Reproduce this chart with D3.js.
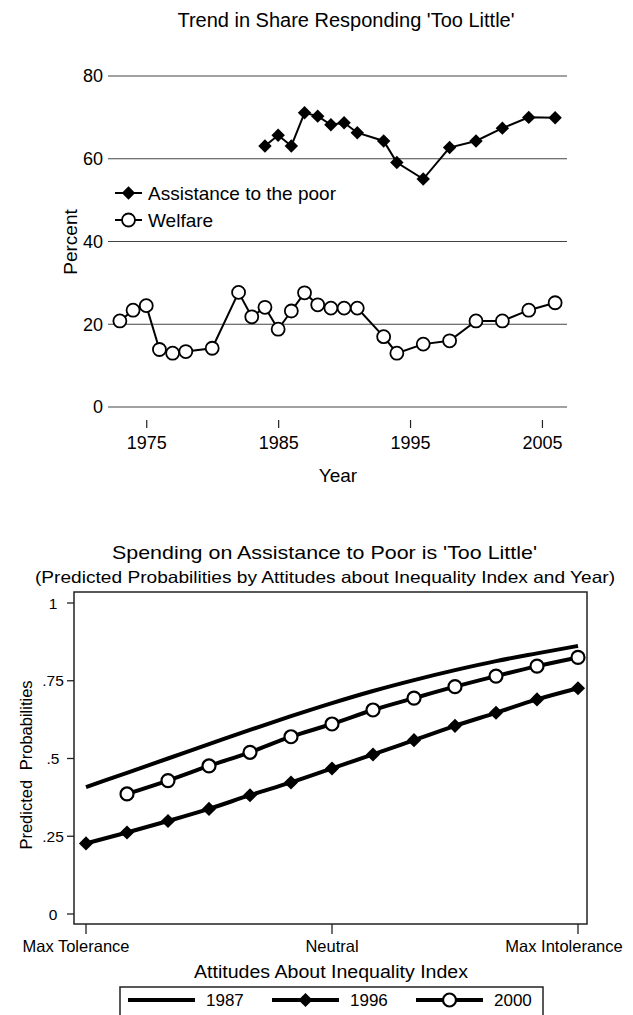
<!DOCTYPE html>
<html><head><meta charset="utf-8">
<script src="https://cdn.jsdelivr.net/npm/d3@7"></script>
<style>
body{margin:0;background:#fff}
text{font-family:"Liberation Sans",Arial,Helvetica,sans-serif;fill:#000}
</style>
</head><body>
<svg id="c" width="633" height="1015"></svg>
<script>
// ---------- Top chart data ----------
const welfareYears = [1973,1974,1975,1976,1977,1978,1980,1982,1983,1984,1985,1986,1987,1988,1989,1990,1991,1993,1994,1996,1998,2000,2002,2004,2006];
const welfareValues = [20.8,23.4,24.5,13.9,13.0,13.4,14.2,27.7,21.8,24.1,18.8,23.2,27.6,24.7,23.9,23.9,23.9,17.0,13.0,15.2,16.0,20.8,20.8,23.4,25.2];
const poorYears = [1984,1985,1986,1987,1988,1989,1990,1991,1993,1994,1996,1998,2000,2002,2004,2006];
const poorValues = [63.1,65.7,63.1,71.1,70.3,68.2,68.7,66.3,64.3,59.1,55.1,62.7,64.3,67.4,70.0,69.9];
const yearTicks = [1975,1985,1995,2005];
const percentTicks = [0,20,40,60,80];
const topLegendLabels = ["Assistance to the poor","Welfare"];

// ---------- Bottom chart data ----------
const indexPoints = [0,1,2,3,4,5,6,7,8,9,10,11,12];
const prob1987 = [0.408,0.454,0.500,0.546,0.592,0.636,0.678,0.717,0.752,0.784,0.813,0.838,0.862];
const prob1996 = [0.227,0.262,0.299,0.338,0.382,0.423,0.468,0.513,0.559,0.605,0.647,0.690,0.726];
const prob2000 = [null,0.386,0.429,0.476,0.520,0.570,0.611,0.656,0.694,0.731,0.765,0.797,0.825];
const indexTicks = [0,6,12];
const indexTickLabels = ["Max Tolerance","Neutral","Max Intolerance"];
const probTicks = [0,0.25,0.5,0.75,1];
const probTickLabels = ["0",".25",".5",".75","1"];
const bottomLegendLabels = ["1987","1996","2000"];

const svg = d3.select("#c");

// =============== TOP CHART ===============
const xT = d3.scaleLinear().domain([1972.1, 2006.9]).range([108, 567]);
const yT = d3.scaleLinear().domain([0, 80]).range([407, 76]);

svg.append("text").attr("x", 346).attr("y", 27).attr("text-anchor","middle")
  .style("font-size","20px").text("Trend in Share Responding 'Too Little'");

// gridlines
const gT = svg.append("g");
gT.selectAll("line.grid").data(percentTicks).join("line")
  .attr("x1", xT.range()[0]).attr("x2", xT.range()[1])
  .attr("y1", d=>yT(d)).attr("y2", d=>yT(d))
  .attr("stroke","#444").attr("stroke-width",1.2);
gT.selectAll("text.yl").data(percentTicks).join("text")
  .attr("x", 103).attr("y", d=>yT(d)).attr("dy","0.36em")
  .attr("text-anchor","end").style("font-size","18px").text(d=>d);

// x axis ticks
const xAxisT = d3.axisBottom(xT).tickValues(yearTicks).tickSize(8).tickPadding(8).tickFormat(d3.format("d"));
const gx = svg.append("g").attr("transform","translate(0,420)").call(xAxisT);
gx.select(".domain").remove();
gx.selectAll(".tick line").attr("stroke","#222").attr("stroke-width",1.2);
gx.selectAll(".tick text").style("font-size","18px").style("font-family","'Liberation Sans',Arial,sans-serif").attr("fill","#000");

svg.append("text").attr("x", 338).attr("y", 482).attr("text-anchor","middle")
  .style("font-size","19px").text("Year");
svg.append("text").attr("transform","translate(77,242) rotate(-90)").attr("text-anchor","middle")
  .style("font-size","19px").text("Percent");

const lineT = d3.line().x(d=>xT(d[0])).y(d=>yT(d[1]));
const poorData = poorYears.map((y,i)=>[y, poorValues[i]]);
const welfData = welfareYears.map((y,i)=>[y, welfareValues[i]]);

svg.append("path").datum(poorData).attr("d", lineT).attr("fill","none").attr("stroke","#000").attr("stroke-width",2);
svg.append("path").datum(welfData).attr("d", lineT).attr("fill","none").attr("stroke","#000").attr("stroke-width",2);

const diamondT = d3.symbol(d3.symbolSquare, 90);
svg.append("g").selectAll("path").data(poorData).join("path")
  .attr("d", diamondT).attr("transform", d=>`translate(${xT(d[0])},${yT(d[1])}) rotate(45)`).attr("fill","#000");
svg.append("g").selectAll("circle").data(welfData).join("circle")
  .attr("cx", d=>xT(d[0])).attr("cy", d=>yT(d[1])).attr("r",6.5)
  .attr("fill","#fff").attr("stroke","#000").attr("stroke-width",1.8);

// legend (top)
const legT = svg.append("g");
[0,1].forEach(i=>{
  const cy = 193 + i*27;
  legT.append("line").attr("x1",115).attr("x2",142).attr("y1",cy).attr("y2",cy).attr("stroke","#000").attr("stroke-width",2);
  if(i===0){
    legT.append("path").attr("d", diamondT).attr("transform",`translate(128.5,${cy}) rotate(45)`).attr("fill","#000");
  } else {
    legT.append("circle").attr("cx",128.5).attr("cy",cy).attr("r",6.5).attr("fill","#fff").attr("stroke","#000").attr("stroke-width",1.8);
  }
  legT.append("text").attr("x",148).attr("y",cy).attr("dy","0.36em").style("font-size","19px").text(topLegendLabels[i]);
});

// =============== BOTTOM CHART ===============
const xB = d3.scaleLinear().domain([0, 12]).range([86, 578]);
const yB = d3.scaleLinear().domain([0, 1]).range([914, 603]);
const frame = {x0:74, x1:587, y0:592, y1:924};

svg.append("text").attr("x", 112).attr("y", 559)
  .attr("textLength", 425).attr("lengthAdjust","spacingAndGlyphs")
  .style("font-size","19px").text("Spending on Assistance to Poor is 'Too Little'");
svg.append("text").attr("x", 35).attr("y", 583)
  .attr("textLength", 580).attr("lengthAdjust","spacingAndGlyphs")
  .style("font-size","16.5px").text("(Predicted Probabilities by Attitudes about Inequality Index and Year)");

svg.append("rect").attr("x",frame.x0).attr("y",frame.y0)
  .attr("width",frame.x1-frame.x0).attr("height",frame.y1-frame.y0)
  .attr("fill","none").attr("stroke","#222").attr("stroke-width",1.5);

// y ticks
const gyB = svg.append("g");
gyB.selectAll("line").data(probTicks).join("line")
  .attr("x1",67).attr("x2",frame.x0).attr("y1",d=>yB(d)).attr("y2",d=>yB(d))
  .attr("stroke","#222").attr("stroke-width",1.3);
gyB.selectAll("text").data(probTicks).join("text")
  .attr("x",53).attr("y",d=>yB(d)).attr("dy","0.36em").attr("text-anchor","middle")
  .style("font-size","15.5px").text((d,i)=>probTickLabels[i]);
svg.append("text").attr("transform","translate(32,765) rotate(-90)").attr("text-anchor","middle")
  .style("font-size","16.5px").style("word-spacing","5px").text("Predicted Probabilities");

// x ticks
const gxB = svg.append("g");
gxB.selectAll("line").data(indexTicks).join("line")
  .attr("x1",d=>xB(d)).attr("x2",d=>xB(d)).attr("y1",frame.y1).attr("y2",frame.y1+10)
  .attr("stroke","#222").attr("stroke-width",1.3);
gxB.selectAll("text").data(indexTicks).join("text")
  .attr("x",(d,i)=> i===2 ? 564 : (i===0 ? 76 : xB(d))).attr("y",952).attr("text-anchor","middle")
  .style("font-size","16.5px").text((d,i)=>indexTickLabels[i]);
svg.append("text").attr("x",194).attr("y",978)
  .attr("textLength", 274).attr("lengthAdjust","spacingAndGlyphs")
  .style("font-size","17.5px").text("Attitudes About Inequality Index");

const lineB = d3.line().x(d=>xB(d[0])).y(d=>yB(d[1])).curve(d3.curveMonotoneX);
const d1987 = indexPoints.map((x,i)=>[x, prob1987[i]]);
const d1996 = indexPoints.map((x,i)=>[x, prob1996[i]]);
const d2000 = indexPoints.map((x,i)=>[x, prob2000[i]]).filter(d=>d[1]!==null);

[d1987,d1996,d2000].forEach(dd=>{
  svg.append("path").datum(dd).attr("d", lineB).attr("fill","none").attr("stroke","#000").attr("stroke-width",4);
});
const diamondB = d3.symbol(d3.symbolSquare, 100);
svg.append("g").selectAll("path").data(d1996).join("path")
  .attr("d", diamondB).attr("transform", d=>`translate(${xB(d[0])},${yB(d[1])}) rotate(45)`).attr("fill","#000");
svg.append("g").selectAll("circle").data(d2000).join("circle")
  .attr("cx", d=>xB(d[0])).attr("cy", d=>yB(d[1])).attr("r",6.5)
  .attr("fill","#fff").attr("stroke","#000").attr("stroke-width",2.2);

// legend (bottom)
const legB = svg.append("g");
legB.append("rect").attr("x",120).attr("y",987).attr("width",423).attr("height",35)
  .attr("fill","#fff").attr("stroke","#222").attr("stroke-width",1.5);
bottomLegendLabels.forEach((lab,i)=>{
  const x0 = 128 + i*144, cy = 1000;
  legB.append("line").attr("x1",x0).attr("x2",x0+67).attr("y1",cy).attr("y2",cy).attr("stroke","#000").attr("stroke-width",4);
  if(i===1) legB.append("path").attr("d", diamondB).attr("transform",`translate(${x0+33.5},${cy}) rotate(45)`).attr("fill","#000");
  if(i===2) legB.append("circle").attr("cx",x0+33.5).attr("cy",cy).attr("r",6.5).attr("fill","#fff").attr("stroke","#000").attr("stroke-width",2.2);
  legB.append("text").attr("x",x0+78).attr("y",cy).attr("dy","0.36em").style("font-size","17px").text(lab);
});
</script>
</body></html>
